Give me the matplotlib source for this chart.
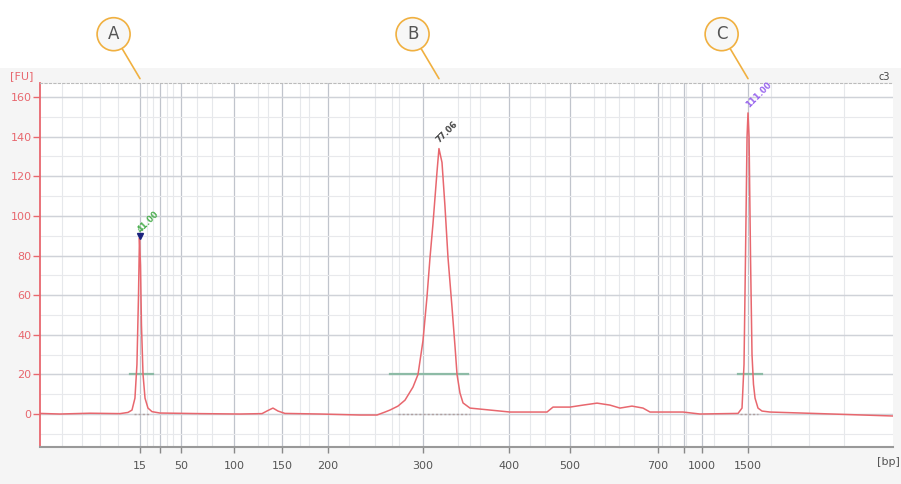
import matplotlib
matplotlib.use("Agg")
import matplotlib.pyplot as plt
import numpy as np

# electropherogram trace: migration time [s] vs fluorescence [FU]
time_s = [29.49, 31.79, 35.24, 38.70, 39.62, 40.08, 40.42, 40.65, 40.83, 40.94,
          41.06, 41.17, 41.35, 41.58, 41.92, 42.38, 43.30, 47.91, 52.51, 55.05,
          55.74, 56.31, 56.89, 57.69, 61.72, 66.33, 68.29, 69.21, 69.78, 70.70,
          71.51, 72.43, 73.01, 73.58, 74.04, 74.39, 74.73, 75.19, 75.42, 75.77,
          76.11, 76.46, 76.92, 77.27, 77.50, 77.84, 78.19, 78.99, 81.30, 83.60,
          87.86, 88.55, 90.51, 92.00, 93.62, 95.11, 96.26, 97.64, 98.91, 99.72,
          103.52, 105.47, 109.85, 110.31, 110.54, 110.71, 110.89, 111.00, 111.12,
          111.29, 111.46, 111.63, 111.81, 112.15, 112.61, 113.53, 119.29, 127.69]
fu = [0.3, 0.0, 0.4, 0.2, 0.8, 2.0, 8.0, 25.0, 60.0, 89.0,
      75.0, 45.0, 20.0, 8.0, 3.0, 1.2, 0.5, 0.2, 0.0, 0.2,
      1.8, 3.0, 1.5, 0.3, 0.0, -0.5, -0.5, 1.0, 2.0, 4.0,
      7.0, 13.6, 20.0, 37.0, 59.0, 79.0, 96.0, 122.0, 134.0, 127.0,
      105.0, 79.0, 54.0, 34.0, 20.0, 10.6, 5.6, 3.0, 2.0, 1.0,
      1.0, 3.5, 3.5, 4.5, 5.5, 4.5, 3.0, 4.0, 3.0, 1.0,
      1.0, 0.0, 0.3, 3.0, 25.0, 79.0, 140.0, 152.0, 140.0,
      79.0, 30.0, 15.0, 8.0, 3.0, 1.5, 1.0, 0.2, -1.0]

# size axis (bp ladder)
tick_times = [41.00, 45.72, 51.82, 57.35, 62.64, 73.58, 83.49, 90.51, 100.64, 105.71, 111.00]
tick_labels = ["15", "50", "100", "150", "200", "300", "400", "500", "700", "1000", "1500"]
extra_ticks = [43.30, 103.63]
minor_times = [32.0, 34.3, 36.4, 38.5, 41.8, 42.5, 44.1, 44.8, 47.6, 49.3, 54.6, 55.7,
               59.4, 60.5, 65.1, 68.0, 70.0, 70.8, 77.6, 79.0, 80.1, 85.9, 87.6, 93.3,
               94.5, 96.2, 97.9, 101.1, 102.0, 103.9, 107.1, 113.7, 118.0, 122.0]

# peaks: callout letter, time, height, label, label colour
peak_letters = ["A", "B", "C"]
peak_times = [41.00, 75.42, 111.00]
peak_heights = [89.0, 134.0, 152.0]
peak_labels = ["41.00", "77.06", "111.00"]
peak_colors = ["#4caf50", "#444444", "#9966ee"]

# integration threshold bars (FU 20) and baselines
bar_start = [39.85, 69.78, 109.85]
bar_end = [42.50, 78.76, 112.61]
base_start = [40.30, 70.70, 110.10]
base_end = [42.00, 78.99, 112.15]

RED = "#e8676e"
ORANGE = "#f0b040"

fig = plt.figure(figsize=(9.01, 4.84), dpi=100, facecolor="#f5f5f5")
fig.patches.append(plt.Rectangle((0, 0.86), 1, 0.14, transform=fig.transFigure,
                                 facecolor="white", edgecolor="none", zorder=-1))
ax = fig.add_axes([0.0444, 0.0764, 0.9467, 0.7521])
ax.set_facecolor("white")

ax.set_xlim(29.49, 127.69)
ax.set_ylim(-16.66, 167.1)

# grid
for t in minor_times:
    ax.axvline(t, color="#e6e8eb", lw=0.8, zorder=0)
for t in tick_times + extra_ticks:
    ax.axvline(t, color="#c0c4cc", lw=0.9, zorder=0)
for y in range(-10, 170, 10):
    ax.axhline(y, color="#e8e9ec", lw=0.8, zorder=0)
for y in range(0, 161, 20):
    ax.axhline(y, color="#cfd2d8", lw=1.0, zorder=0)

# threshold bars and baselines
for s, e in zip(bar_start, bar_end):
    ax.plot([s, e], [20, 20], color="#8dbba6", lw=1.6, zorder=2)
for s, e in zip(base_start, base_end):
    ax.plot([s, e], [0, 0], color="#b0a0a0", lw=1.0, ls=(0, (1.5, 1.5)), zorder=2)

# trace
ax.plot(time_s, fu, color=RED, lw=1.1, zorder=3)

# peak labels
for t, h, lab, c in zip(peak_times, peak_heights, peak_labels, peak_colors):
    ax.text(t - 0.1, h + 3.5, lab, rotation=45, rotation_mode="anchor", ha="left",
            va="center", fontsize=6, color=c, fontweight="bold", zorder=4)
ax.plot(peak_times[0], peak_heights[0] + 1, marker="v", color="#1a237e", ms=5, zorder=5)

# callouts
for L, t in zip(peak_letters, peak_times):
    ax.annotate(L, xy=(t, 1.012), xycoords=("data", "axes fraction"),
                xytext=(-19, 32), textcoords="offset points", ha="center", va="center",
                fontsize=12, color="#555555", annotation_clip=False,
                bbox=dict(boxstyle="circle,pad=0.45", fc="#f7f7f7", ec=ORANGE, lw=1.2),
                arrowprops=dict(arrowstyle="-", color=ORANGE, lw=1.2, shrinkA=0, shrinkB=0))

# spines
ax.spines["right"].set_visible(False)
ax.spines["top"].set_color("#bbbbbb")
ax.spines["top"].set_linestyle((0, (2, 2)))
ax.spines["left"].set_color(RED)
ax.spines["left"].set_linewidth(1.3)
ax.spines["bottom"].set_color("#999999")
ax.spines["bottom"].set_linewidth(1.5)

ax.set_yticks(range(0, 161, 20))
ax.tick_params(axis="y", colors=RED, labelsize=8, length=5, width=1, pad=1)
ax.set_xticks(tick_times + extra_ticks)
ax.set_xticklabels(tick_labels + ["", ""])
ax.tick_params(axis="x", colors="#888888", labelcolor="#555555", labelsize=8,
               length=4, width=1, pad=6)

ax.text(-0.008, 1.005, "[FU]", transform=ax.transAxes, ha="right", va="bottom",
        fontsize=8, color=RED)
fig.text(0.999, 0.045, "[bp]", ha="right", va="center", fontsize=8, color="#555555")
ax.text(0.997, 1.003, "c3", transform=ax.transAxes, ha="right", va="bottom",
        fontsize=7, color="#444444")

fig.savefig("out.png", dpi=100, facecolor=fig.get_facecolor())
